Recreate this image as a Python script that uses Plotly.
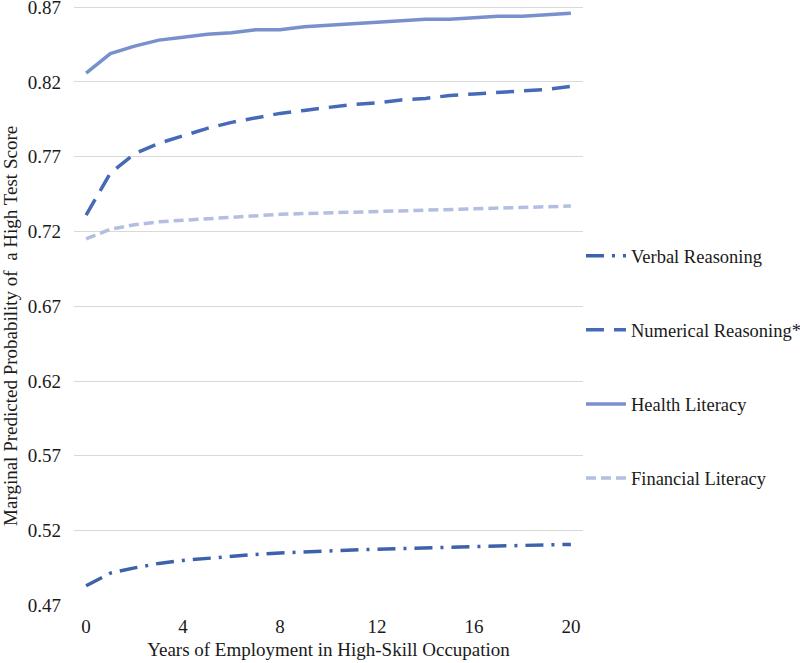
"""Marginal predicted probability of a high test score by years in high-skill occupation."""
import plotly.graph_objects as go

years = list(range(21))

verbal = [0.483, 0.4915, 0.495, 0.498, 0.500, 0.5015, 0.5027, 0.504, 0.505, 0.5058, 0.5065,
          0.507, 0.5075, 0.508, 0.5085, 0.509, 0.5094, 0.5098, 0.510, 0.5104, 0.5107]
numerical = [0.731, 0.759, 0.772, 0.779, 0.784, 0.789, 0.793, 0.796, 0.799, 0.801, 0.803,
             0.805, 0.806, 0.808, 0.809, 0.811, 0.812, 0.813, 0.814, 0.815, 0.817]
health = [0.826, 0.839, 0.844, 0.848, 0.850, 0.852, 0.853, 0.855, 0.855, 0.857, 0.858,
          0.859, 0.860, 0.861, 0.862, 0.862, 0.863, 0.864, 0.864, 0.865, 0.866]
financial = [0.715, 0.7215, 0.7245, 0.7265, 0.7275, 0.7285, 0.7297, 0.7307, 0.7315, 0.732, 0.7325,
             0.733, 0.7335, 0.734, 0.7345, 0.735, 0.7355, 0.736, 0.7362, 0.7365, 0.737]

series_names = ["Verbal Reasoning", "Numerical Reasoning*", "Health Literacy", "Financial Literacy"]
y_ticks = [0.47, 0.52, 0.57, 0.62, 0.67, 0.72, 0.77, 0.82, 0.87]
x_ticks = [0, 4, 8, 12, 16, 20]

FONT = "Liberation Serif, Times New Roman, serif"
TEXT = "#1a1a1a"
styles = [
    dict(color="#3d62ab", dash="18px,8px,3px,8px"),
    dict(color="#4669b8", dash="18px,10px"),
    dict(color="#7890cc", dash="solid"),
    dict(color="#b3bfe1", dash="10px,5px"),
]

fig = go.Figure()
for name, vals, st in zip(series_names, [verbal, numerical, health, financial], styles):
    fig.add_trace(go.Scatter(
        x=years, y=vals, mode="lines", name=name, legendgroup=name,
        line=dict(color=st["color"], width=3.5, dash=st["dash"]),
    ))

fig.update_layout(
    width=800, height=663,
    margin=dict(l=74, r=217, t=5, b=57, autoexpand=False),
    paper_bgcolor="white", plot_bgcolor="white",
    font=dict(family=FONT, size=19, color=TEXT),
    showlegend=True,
    legend=dict(
        x=0.996, xanchor="left", y=0.6135, yanchor="top",
        tracegroupgap=47, font=dict(size=18.5, family=FONT, color=TEXT),
        itemwidth=40, bgcolor="rgba(0,0,0,0)",
    ),
)
# y-axis title sits a little below the plot centre, so it is placed as an annotation
fig.add_annotation(
    text="Marginal Predicted Probability of  a High Test Score",
    xref="paper", yref="paper", x=-0.1238, y=0.466,
    xanchor="center", yanchor="middle", textangle=-90, showarrow=False,
    font=dict(size=19, family=FONT, color=TEXT),
)
fig.update_xaxes(
    range=[-0.5, 20.5], tickvals=x_ticks, showgrid=False, zeroline=False,
    showline=False, ticks="", ticklabelstandoff=7, automargin=False,
    tickfont=dict(size=19, family=FONT, color=TEXT),
    title=dict(text="Years of Employment in High-Skill Occupation",
               font=dict(size=19, family=FONT, color=TEXT), standoff=6),
)
fig.update_yaxes(
    range=[0.4695, 0.8715], tickvals=y_ticks, tickformat=".2f",
    showgrid=True, gridcolor="#d9d9d9", gridwidth=1, zeroline=False, showline=False,
    ticks="", ticklabelstandoff=12, ticklabeloverflow="allow", automargin=False,
    tickfont=dict(size=19, family=FONT, color=TEXT),
)

# the page body has an 8px default margin; drop it so the figure sits at the window corner
fig.write_html("out.html", config={"displayModeBar": False},
               post_script="document.body.style.margin='0';")
